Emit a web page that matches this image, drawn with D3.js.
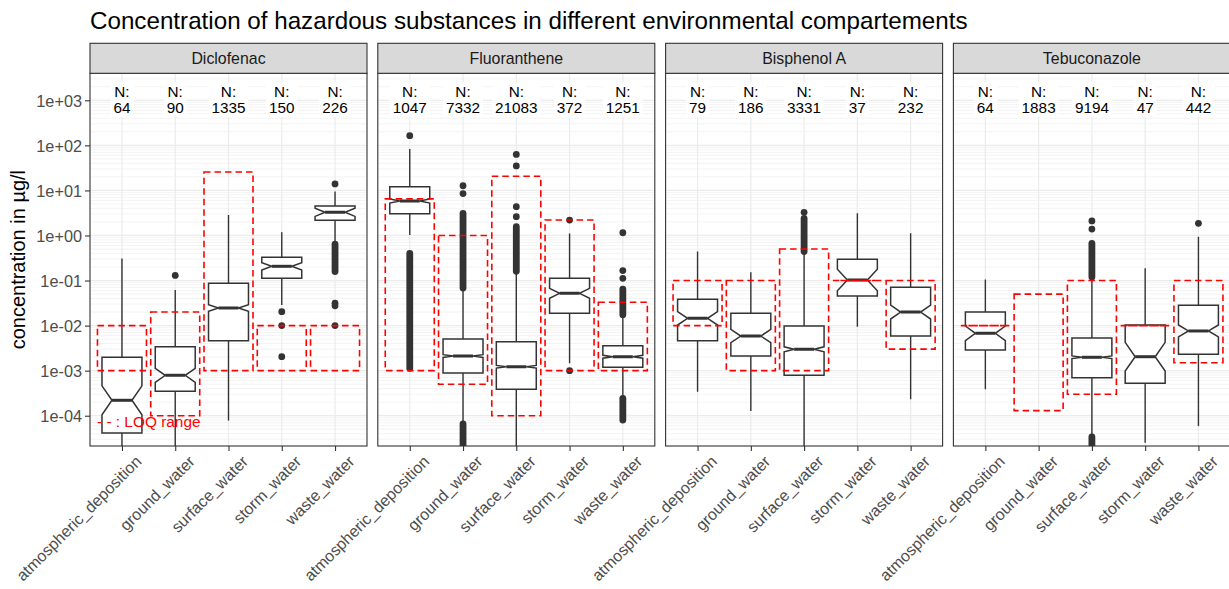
<!DOCTYPE html>
<html>
<head>
<meta charset="utf-8">
<script src="https://cdn.jsdelivr.net/npm/d3@7/dist/d3.min.js"></script>
<style>
  body { margin: 0; background: #ffffff; }
  text { font-family: "Liberation Sans", Arial, Helvetica, sans-serif; }
</style>
</head>
<body>
<svg id="chart" width="1229" height="589"></svg>
<script>
// ---- data -------------------------------------------------------------
const substances = ["Diclofenac", "Fluoranthene", "Bisphenol A", "Tebuconazole"];
const compartments = ["atmospheric_deposition", "ground_water", "surface_water", "storm_water", "waste_water"];

// number of samples per substance / compartment
const sampleCounts = [
  [64, 90, 1335, 150, 226],
  [1047, 7332, 21083, 372, 1251],
  [79, 186, 3331, 37, 232],
  [64, 1883, 9194, 47, 442]
];

// box statistics in µg/l (null = no detected values)
const whiskerLow = [
  [2e-5, 1.5e-5, 7.8e-5, 0.0286, 0.73],
  [1.03, 6.8e-5, 1e-5, 1.46e-3, 2.64e-4],
  [3.41e-4, 1.27e-4, 1e-5, 9.46e-3, 2.31e-4],
  [3.85e-4, null, 3.43e-5, 2.52e-5, 5.9e-5]
];
const hingeLow = [
  [4.13e-5, 3.48e-4, 4.6e-3, 0.112, 2.17],
  [3.04, 8.87e-4, 3.85e-4, 0.0187, 1.19e-3],
  [4.62e-3, 2.11e-3, 7.9e-4, 0.0454, 5.87e-3],
  [2.88e-3, null, 6.98e-4, 5.25e-4, 2.31e-3]
];
const medians = [
  [2.2e-4, 7.9e-4, 0.0246, 0.207, 3.27],
  [5.8, 2.11e-3, 1.22e-3, 0.052, 2.04e-3],
  [0.0145, 5.87e-3, 2.98e-3, 0.1028, 0.02],
  [6.75e-3, null, 1.98e-3, 2.04e-3, 7.6e-3]
];
const hingeHigh = [
  [1.98e-3, 3.4e-3, 0.087, 0.328, 4.5],
  [12.1, 5.05e-3, 4.4e-3, 0.112, 3.58e-3],
  [0.0384, 0.0187, 9.8e-3, 0.296, 0.0708],
  [0.02, null, 5.3e-3, 0.0103, 0.0282]
];
const whiskerHigh = [
  [0.31, 0.062, 2.85, 1.18, 9.4],
  [83, 0.065, 0.155, 1.1, 0.017],
  [0.44, 0.152, 0.43, 3.1, 1.12],
  [0.106, null, 0.118, 0.187, 0.94]
];
// notch limits around the median
const notchLow = [
  [1.05e-4, 5.5e-4, 0.0207, 0.172, 2.65],
  [5.25, 1.97e-3, 1.14e-3, 0.0403, 1.89e-3],
  [0.0103, 4.17e-3, 2.63e-3, 0.0591, 0.014],
  [4.64e-3, null, 1.85e-3, 9.8e-4, 5.6e-3]
];
const notchHigh = [
  [4.6e-4, 1.13e-3, 0.0292, 0.249, 4.02],
  [6.46, 2.26e-3, 1.31e-3, 0.0671, 2.2e-3],
  [0.0204, 8.26e-3, 3.38e-3, 0.179, 0.0286],
  [9.8e-3, null, 2.12e-3, 4.25e-3, 0.0103]
];

// single outliers
const outlierPoints = [
  [[], [0.13], [], [0.0204, 0.01, 0.00204], [13.9, 0.0313, 0.0275, 0.01]],
  [[164], [12.7, 8.5], [63, 35, 4.36, 2.61], [2.2, 1e-3], [1.15, 0.166, 0.112]],
  [[], [], [3.27], [], []],
  [[], [], [2.1, 1.39], [], [1.86]]
];
// stretches of densely packed outliers [low, high]
const outlierRuns = [
  [[], [], [], [], [[0.158, 0.645]]],
  [[[1.13e-3, 0.40]], [[0.068, 3.1], [1e-5, 6.6e-5]], [[0.16, 1.57]], [], [[0.0175, 0.064], [8.0e-5, 2.43e-4]]],
  [[], [], [[0.44, 2.4]], [], []],
  [[], [], [[0.12, 0.67], [1e-5, 3.4e-5]], [], []]
];

// limit of quantification range per substance / compartment [min, max]
const loqRange = [
  [[1e-3, 1e-2], [1e-4, 0.02], [1e-3, 25.6], [1e-3, 1e-2], [1e-3, 1e-2]],
  [[1e-3, 6.5], [5e-4, 1], [1e-4, 20.6], [1e-3, 2.2], [1e-3, 0.033]],
  [[0.01, 0.1], [1e-3, 0.1], [1e-3, 0.5], [0.1, 0.1], [3e-3, 0.1]],
  [[0.01, 0.01], [1.3e-4, 0.05], [3e-4, 0.1], [0.01, 0.01], [1.5e-3, 0.1]]
];

const yTickValues = [1e-4, 1e-3, 1e-2, 1e-1, 1e0, 1e1, 1e2, 1e3];
const yTickLabels = ["1e-04", "1e-03", "1e-02", "1e-01", "1e+00", "1e+01", "1e+02", "1e+03"];
const nLabelValue = 1000;

// ---- layout -------------------------------------------------------------
const svg = d3.select("#chart");
const panelX0 = 90, panelW = 277, panelGap = 10.8;
const panelTop = 73.3, panelBottom = 446, stripTop = 43.3;
const ink = "#333333", gridCol = "#EBEBEB", axisTextCol = "#4D4D4D";

const y = d3.scaleLog()
  .domain([Math.pow(10, -4.672), Math.pow(10, 3.599)])
  .range([panelBottom, panelTop]);

svg.append("rect").attr("width", 1229).attr("height", 589).attr("fill", "#ffffff");

// title
svg.append("text")
  .attr("x", 90).attr("y", 28.5)
  .attr("font-size", 24.2)
  .attr("fill", "#000")
  .text("Concentration of hazardous substances in different environmental compartements");

// y axis title
svg.append("text")
  .attr("transform", `translate(25,${(panelTop + panelBottom) / 2}) rotate(-90)`)
  .attr("text-anchor", "middle")
  .attr("font-size", 20)
  .attr("fill", "#000")
  .text("concentration in µg/l");

// minor log grid values
const minorGrid = [];
for (let k = -5; k <= 3; k++) {
  for (let m = 2; m <= 9; m++) {
    const v = m * Math.pow(10, k);
    if (v > y.domain()[0] && v < y.domain()[1]) minorGrid.push(v);
  }
}

const pointR = 3.4;

substances.forEach((name, si) => {
  const px = panelX0 + si * (panelW + panelGap);
  const x = d3.scalePoint().domain(compartments).range([0, panelW]).padding(0.6);
  const step = x.step();
  const boxHalf = 0.375 * step;
  const notchInset = 0.25 * 0.75 * step;

  const g = svg.append("g").attr("transform", `translate(${px},0)`);

  const clipId = `clip-${si}`;
  g.append("clipPath").attr("id", clipId)
    .append("rect").attr("x", 0).attr("y", panelTop).attr("width", panelW).attr("height", panelBottom - panelTop);

  const body = g.append("g").attr("clip-path", `url(#${clipId})`);

  // grid
  body.selectAll("line.minor").data(minorGrid).join("line")
    .attr("x1", 0).attr("x2", panelW)
    .attr("y1", d => y(d)).attr("y2", d => y(d))
    .attr("stroke", gridCol).attr("stroke-width", 0.6);
  body.selectAll("line.major").data(yTickValues).join("line")
    .attr("x1", 0).attr("x2", panelW)
    .attr("y1", d => y(d)).attr("y2", d => y(d))
    .attr("stroke", gridCol).attr("stroke-width", 1.2);
  body.selectAll("line.vmajor").data(compartments).join("line")
    .attr("x1", d => x(d)).attr("x2", d => x(d))
    .attr("y1", panelTop).attr("y2", panelBottom)
    .attr("stroke", gridCol).attr("stroke-width", 1.2);

  // boxplots
  compartments.forEach((comp, ci) => {
    const cx = x(comp);
    const med = medians[si][ci];
    const layer = body.append("g");
    if (med !== null) {
      const hl = hingeLow[si][ci], hh = hingeHigh[si][ci];
      layer.append("line")
        .attr("x1", cx).attr("x2", cx)
        .attr("y1", y(hh)).attr("y2", y(whiskerHigh[si][ci]))
        .attr("stroke", ink).attr("stroke-width", 1.4);
      layer.append("line")
        .attr("x1", cx).attr("x2", cx)
        .attr("y1", y(hl)).attr("y2", y(whiskerLow[si][ci]))
        .attr("stroke", ink).attr("stroke-width", 1.4);

      const x0 = cx - boxHalf, x1 = cx + boxHalf;
      const nl = notchLow[si][ci], nh = notchHigh[si][ci];
      const p = d3.path();
      p.moveTo(x0, y(hh));
      p.lineTo(x0, y(nh));
      p.lineTo(x0 + notchInset, y(med));
      p.lineTo(x0, y(nl));
      p.lineTo(x0, y(hl));
      p.lineTo(x1, y(hl));
      p.lineTo(x1, y(nl));
      p.lineTo(x1 - notchInset, y(med));
      p.lineTo(x1, y(nh));
      p.lineTo(x1, y(hh));
      p.closePath();
      layer.append("path").attr("d", p.toString())
        .attr("fill", "#ffffff").attr("stroke", ink).attr("stroke-width", 1.5)
        .attr("stroke-linejoin", "miter");
      layer.append("line")
        .attr("x1", x0 + notchInset).attr("x2", x1 - notchInset)
        .attr("y1", y(med)).attr("y2", y(med))
        .attr("stroke", ink).attr("stroke-width", 3);
    }
    // outliers
    layer.selectAll("line.run").data(outlierRuns[si][ci]).join("line")
      .attr("x1", cx).attr("x2", cx)
      .attr("y1", d => y(d[0])).attr("y2", d => y(d[1]))
      .attr("stroke", ink).attr("stroke-width", pointR * 2).attr("stroke-linecap", "round");
    layer.selectAll("circle").data(outlierPoints[si][ci]).join("circle")
      .attr("cx", cx).attr("cy", d => y(d)).attr("r", pointR)
      .attr("fill", ink);
  });

  // LOQ ranges (dashed red outlines)
  compartments.forEach((comp, ci) => {
    const cx = x(comp);
    const [lo, hi] = loqRange[si][ci];
    const rx0 = cx - 0.46 * step, rx1 = cx + 0.46 * step;
    const p = d3.path();
    p.moveTo(rx0, y(hi));
    p.lineTo(rx1, y(hi));
    p.lineTo(rx1, y(lo));
    p.lineTo(rx0, y(lo));
    p.closePath();
    body.append("path").attr("d", p.toString())
      .attr("fill", "none").attr("stroke", "#FF0000")
      .attr("stroke-width", 1.6).attr("stroke-dasharray", "6.5,4");
  });

  // N labels with white background
  compartments.forEach((comp, ci) => {
    const cx = x(comp);
    const lg = body.append("g");
    const bg = lg.append("rect").attr("fill", "#ffffff");
    const t = lg.append("text")
      .attr("text-anchor", "middle")
      .attr("font-size", 15.3)
      .attr("fill", "#000");
    t.append("tspan").attr("x", cx).attr("y", y(nLabelValue) - 3.2).text("N:");
    t.append("tspan").attr("x", cx).attr("y", y(nLabelValue) + 12.6).text(sampleCounts[si][ci]);
    const bb = t.node().getBBox();
    bg.attr("x", bb.x - 3).attr("y", bb.y - 1).attr("width", bb.width + 6).attr("height", bb.height + 2);
  });

  if (si === 0) {
    body.append("text")
      .attr("x", 7).attr("y", 426.5)
      .attr("font-size", 15.4)
      .attr("fill", "#FF0000")
      .text("- - : LOQ range");
  }

  // panel border
  g.append("rect")
    .attr("x", 0).attr("y", panelTop).attr("width", panelW).attr("height", panelBottom - panelTop)
    .attr("fill", "none").attr("stroke", ink).attr("stroke-width", 1.1);

  // strip
  g.append("rect")
    .attr("x", 0).attr("y", stripTop).attr("width", panelW).attr("height", panelTop - stripTop)
    .attr("fill", "#D9D9D9").attr("stroke", ink).attr("stroke-width", 1.1);
  g.append("text")
    .attr("x", panelW / 2).attr("y", (stripTop + panelTop) / 2 + 5.6)
    .attr("text-anchor", "middle")
    .attr("font-size", 15.9)
    .attr("fill", "#1A1A1A")
    .text(name);

  // x axis
  const xAxis = g.append("g")
    .attr("transform", `translate(0,${panelBottom})`)
    .call(d3.axisBottom(x).tickSize(5).tickPadding(0));
  xAxis.select(".domain").remove();
  xAxis.selectAll(".tick line").attr("stroke", ink).attr("stroke-width", 1.1);
  xAxis.selectAll(".tick text")
    .attr("font-size", 16)
    .attr("fill", axisTextCol)
    .attr("text-anchor", "end")
    .attr("dy", null)
    .attr("y", null)
    .attr("transform", "translate(20,16.5) rotate(-45)");

  // y axis on the first panel
  if (si === 0) {
    const yAxis = g.append("g")
      .call(d3.axisLeft(y).tickValues(yTickValues)
        .tickFormat((d, i) => yTickLabels[i]).tickSize(5).tickPadding(3));
    yAxis.select(".domain").remove();
    yAxis.selectAll(".tick line").attr("stroke", ink).attr("stroke-width", 1.1);
    yAxis.selectAll(".tick text")
      .attr("font-size", 16.3)
      .attr("fill", axisTextCol)
      .attr("dy", "0.35em");
  }
});
</script>
</body>
</html>
